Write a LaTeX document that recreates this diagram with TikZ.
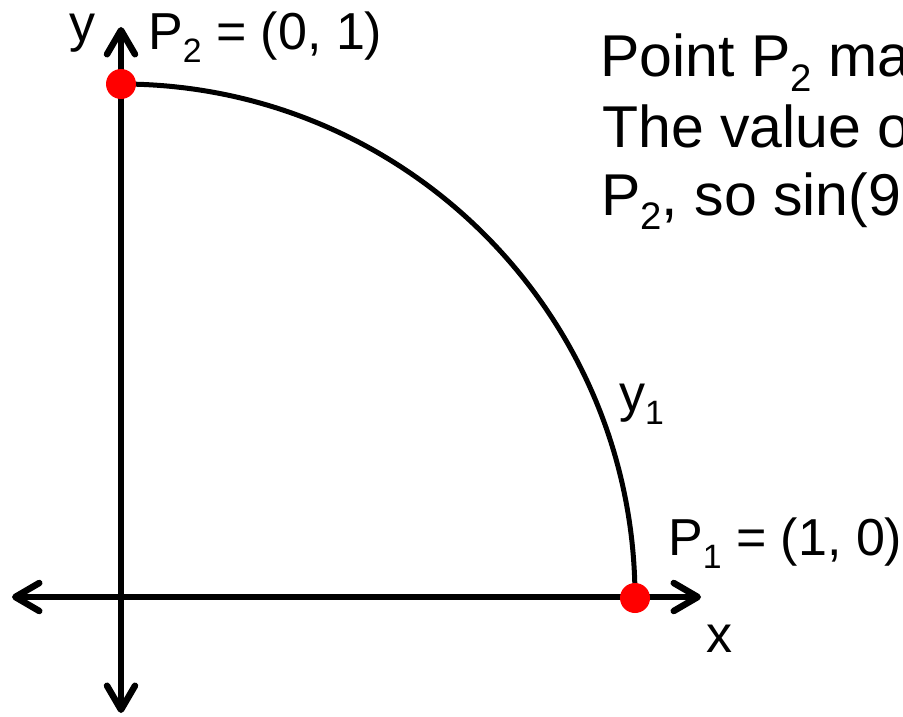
\documentclass[tikz,border=0pt]{standalone}
\usepackage{fontspec}
\setmainfont{Liberation Sans}
\usepackage{graphicx}
\usetikzlibrary{arrows.meta}
\newcommand\lsub[1]{\raisebox{-0.25em}{\scalebox{0.65}{#1}}}
\begin{document}
\begin{tikzpicture}[x=1pt,y=1pt,
  axisline/.style={line width=6.5pt,{Straight Barb[length=24pt,width=28pt,round]}-{Straight Barb[length=24pt,width=28pt,round]}},
  curve/.style={line width=5pt},
  reddot/.style={circle,fill=red,draw=none,minimum size=30pt,inner sep=0pt},
  lab/.style={anchor=base west,inner sep=0pt,font=\fontsize{52}{60}\selectfont},
  body/.style={anchor=base west,inner sep=0pt,font=\fontsize{59}{69}\selectfont}]
\useasboundingbox (0,0) rectangle (903,-717);
\clip (0,0) rectangle (903,-717);
\coordinate (O) at (121,-597);
\coordinate (xl) at (12,-597);
\coordinate (xr) at (701,-597);
\coordinate (yt) at (121,-27);
\coordinate (yb) at (121,-713);
\draw[axisline] (xl) -- (xr);
\draw[axisline] (yb) -- (yt);
\draw[curve] (121,-84) coordinate (a0) arc[start angle=90,end angle=0,radius=514pt] coordinate (a1);
\node[reddot] (P2) at (a0) {};
\node[reddot] (P1) at (a1) {};
\node[lab] (ylab) at (69,-42) {y};
\node[lab] (p2lab) at (148,-50) {P\lsub{2} = (0, 1)};
\node[lab] (y1lab) at (619,-411) {y\lsub{1}};
\node[lab] (p1lab) at (668,-555) {P\lsub{1} = (1, 0)};
\node[lab] (xlab) at (706,-652) {x};
\node[body] (t1) at (600,-77) {Point P\lsub{2} ma};
\node[body] (t2) at (602,-147) {The value o};
\node[body] (t3) at (601,-215) {P\lsub{2}, so sin(9};
\end{tikzpicture}
\end{document}
